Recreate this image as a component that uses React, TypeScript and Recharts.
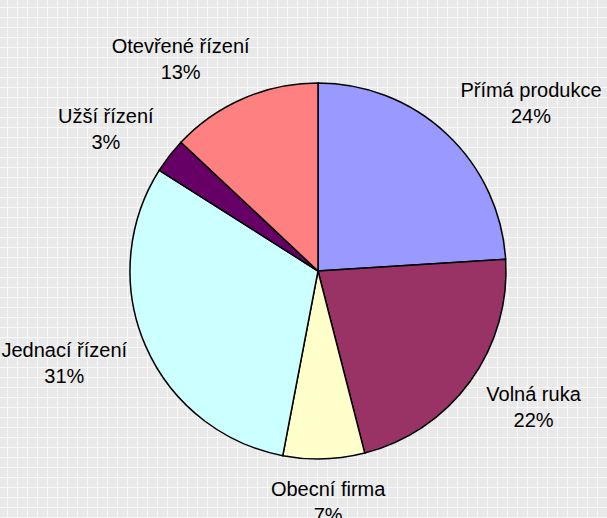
import { PieChart, Pie, Cell } from 'recharts'

const categories = [
  'Přímá produkce',
  'Volná ruka',
  'Obecní firma',
  'Jednací řízení',
  'Užší řízení',
  'Otevřené řízení',
]
const shares = [24, 22, 7, 31, 3, 13]
const sliceColors = ['#9999FF', '#993366', '#FFFFCC', '#CCFFFF', '#660066', '#FF8080']

const data = categories.map((name, i) => ({ name, value: shares[i] }))

const FONT = '"Liberation Sans", Arial, sans-serif'
const FONT_SIZE = 20
const RADIAN = Math.PI / 180

let ctx: CanvasRenderingContext2D | null = null
function textWidth(s: string) {
  if (!ctx) ctx = document.createElement('canvas').getContext('2d')
  if (!ctx) return s.length * FONT_SIZE * 0.5
  ctx.font = `${FONT_SIZE}px ${FONT}`
  return ctx.measureText(s).width
}

// Excel-like outside label: box sits just beyond the rim along the mid angle
function renderLabel(props: any) {
  const { cx, cy, midAngle, outerRadius, name, value } = props
  const ux = Math.cos(-midAngle * RADIAN)
  const uy = Math.sin(-midAngle * RADIAN)
  const pct = `${value}%`
  const w = Math.max(textWidth(name), textWidth(pct))
  const a = outerRadius + 20
  const x = cx + a * ux + Math.sign(ux) * Math.min(1, Math.abs(ux) * 2) * (w / 2)
  const y = cy + a * uy + uy * 23
  return (
    <text
      x={x}
      y={y}
      textAnchor="middle"
      fontFamily={FONT}
      fontSize={FONT_SIZE}
      fill="#000"
    >
      <tspan x={x} y={y - 6}>{name}</tspan>
      <tspan x={x} y={y + 20}>{pct}</tspan>
    </text>
  )
}

const bg = {
  width: 607,
  height: 518,
  overflow: 'hidden',
  backgroundColor: '#e9e9e9',
  backgroundImage:
    'linear-gradient(to right, #f8f8f8 1px, transparent 1px), linear-gradient(to bottom, #f8f8f8 1px, transparent 1px)',
  backgroundSize: '10px 10px',
  backgroundPosition: '7px 7px',
} as const

export default function App() {
  return (
    <div style={bg}>
      <style>{'body{margin:0}'}</style>
      <PieChart width={607} height={518} margin={{ top: 0, right: 0, bottom: 0, left: 0 }}>
        <Pie
          data={data}
          dataKey="value"
          nameKey="name"
          cx={318}
          cy={271}
          outerRadius={188}
          startAngle={90}
          endAngle={-270}
          stroke="#000"
          strokeWidth={1.5}
          label={renderLabel}
          labelLine={false}
          isAnimationActive={false}
        >
          {data.map((d, i) => (
            <Cell key={d.name} fill={sliceColors[i]} />
          ))}
        </Pie>
      </PieChart>
    </div>
  )
}
